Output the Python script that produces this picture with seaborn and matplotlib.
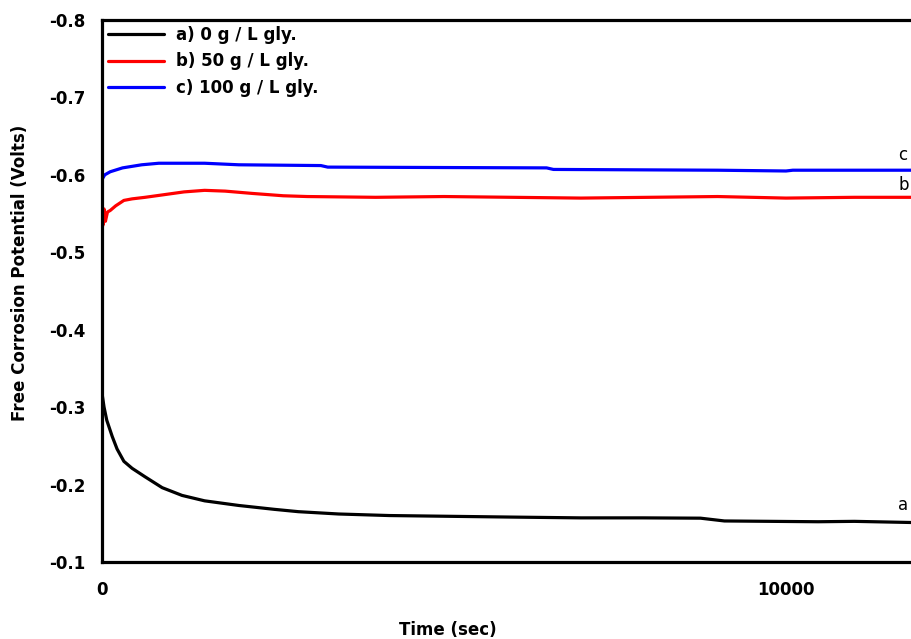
import numpy as np
import pandas as pd
import matplotlib
matplotlib.use("Agg")
import matplotlib.pyplot as plt
from matplotlib.ticker import MultipleLocator, FormatStrFormatter
import seaborn as sns

# ---- data ----
t_a = [0, 30, 70, 150, 220, 320, 440, 630, 880, 1170, 1500, 2000, 2520, 2870,
       3460, 4200, 5100, 6000, 7000, 7900, 8750, 9100, 10470, 11000, 11840, 13000]
v_a = [-0.318, -0.300, -0.283, -0.262, -0.246, -0.230, -0.221, -0.210, -0.196,
       -0.186, -0.179, -0.173, -0.168, -0.165, -0.162, -0.160, -0.159, -0.158,
       -0.157, -0.157, -0.1566, -0.153, -0.152, -0.1525, -0.151, -0.151]

t_b = [0, 15, 30, 50, 80, 120, 200, 320, 440, 630, 875, 1200, 1500, 1800, 2200,
       2650, 3000, 4000, 5000, 6000, 7000, 8000, 9000, 10000, 11000, 13000]
v_b = [-0.545, -0.535, -0.556, -0.540, -0.552, -0.554, -0.560, -0.567, -0.569,
       -0.571, -0.574, -0.578, -0.580, -0.579, -0.576, -0.573, -0.572, -0.571,
       -0.572, -0.571, -0.570, -0.571, -0.572, -0.570, -0.571, -0.571]

t_c = [0, 40, 120, 300, 580, 830, 1500, 2000, 3200, 3300, 6500, 6600, 9000,
       10000, 10100, 13000]
v_c = [-0.594, -0.600, -0.604, -0.609, -0.613, -0.615, -0.615, -0.613, -0.612,
       -0.610, -0.609, -0.607, -0.606, -0.605, -0.606, -0.606]

labels = ["a) 0 g / L gly.", "b) 50 g / L gly.", "c) 100 g / L gly."]
colors = ["#000000", "#ff0000", "#0000ff"]
end_tags = ["a", "b", "c"]
tag_y = [-0.173, -0.587, -0.626]

y_ticks = [-0.8, -0.7, -0.6, -0.5, -0.4, -0.3, -0.2, -0.1]

# ---- figure ----
sns.set_style("white")
plt.rcParams["font.family"] = ["DejaVu Sans"]
for k in ["text.color", "axes.labelcolor", "xtick.color", "ytick.color"]:
    plt.rcParams[k] = "black"

W, H = 912, 639
fig = plt.figure(figsize=(W / 100, H / 100), dpi=100)
left_px, top_px, bot_px = 102, 20, 562
xmax = 13000
px_per_unit = 684 / 10000
width_px = xmax * px_per_unit
ax = fig.add_axes([left_px / W, 1 - bot_px / H, width_px / W, (bot_px - top_px) / H])

series = [(t_a, v_a), (t_b, v_b), (t_c, v_c)]
for (t, v), lab, col in zip(series, labels, colors):
    df = pd.DataFrame({"t": t, "v": v})
    sns.lineplot(data=df, x="t", y="v", ax=ax, color=col, lw=2.3, label=lab,
                 sort=False, estimator=None)

ax.set_xlim(0, xmax)
ax.set_ylim(-0.1, -0.8)
ax.set_yticks(y_ticks)
ax.yaxis.set_major_formatter(FormatStrFormatter("%.1f"))
ax.yaxis.set_minor_locator(MultipleLocator(0.05))
ax.xaxis.set_major_locator(MultipleLocator(10000))
ax.xaxis.set_minor_locator(MultipleLocator(5000))
ax.xaxis.set_major_formatter(FormatStrFormatter("%d"))

ax.tick_params(axis="both", which="major", direction="in", length=7.5, width=2,
               labelsize=12, color="black", labelcolor="black")
ax.tick_params(axis="both", which="minor", direction="in", length=4.5, width=2,
               color="black")
ax.tick_params(axis="y", which="major", pad=12)
ax.tick_params(axis="x", which="major", pad=14)
for lbl in ax.get_xticklabels() + ax.get_yticklabels():
    lbl.set_fontweight("bold")

for s in ["left", "bottom", "top", "right"]:
    ax.spines[s].set_linewidth(2.3)
    ax.spines[s].set_color("black")

ax.set_xlabel("")
ax.set_ylabel("")
fig.text(448 / W, 1 - 630 / H, "Time (sec)", ha="center", va="center",
         fontsize=12, fontweight="bold", color="black")
fig.text(20 / W, 1 - 273 / H, "Free Corrosion Potential (Volts)", ha="center",
         va="center", rotation=90, fontsize=12, fontweight="bold", color="black")

for tag, yy in zip(end_tags, tag_y):
    ax.text(11640, yy, tag, ha="left", va="center", fontsize=12, color="black",
            clip_on=False)

leg = ax.legend(loc="upper left", bbox_to_anchor=(108 / W, 1 - 26 / H),
                bbox_transform=fig.transFigure, frameon=False, fontsize=12,
                handlelength=3.35, handletextpad=0.75, labelspacing=0.51,
                borderpad=0, borderaxespad=0)
for txt in leg.get_texts():
    txt.set_fontweight("bold")
    txt.set_color("black")
for line in leg.get_lines():
    line.set_linewidth(2.3)

fig.savefig("out.png", dpi=100)
